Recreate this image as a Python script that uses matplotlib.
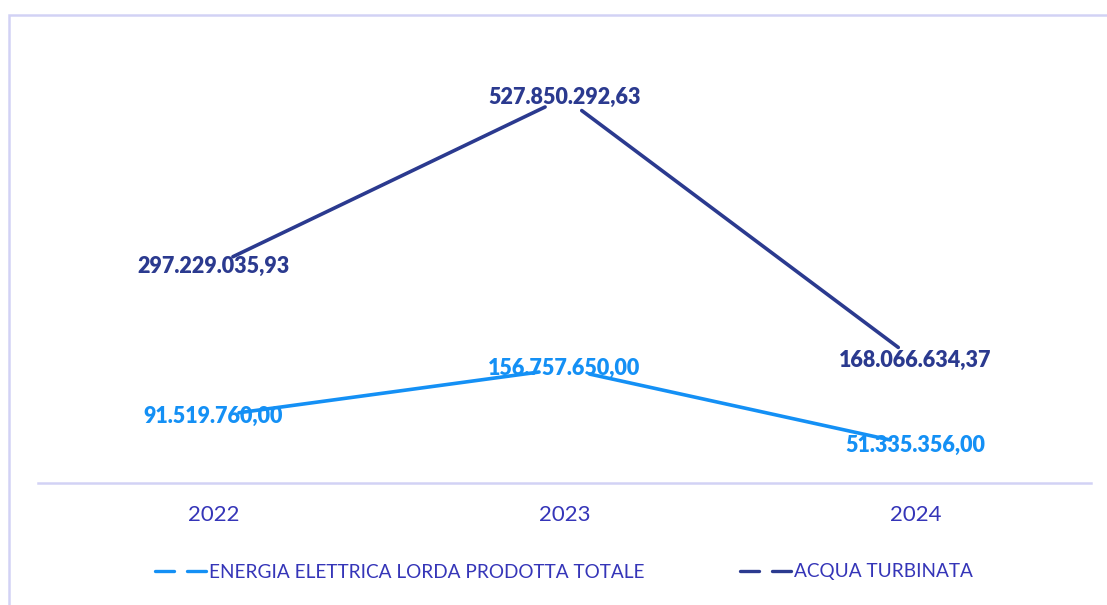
import matplotlib
matplotlib.use("Agg")
import matplotlib.pyplot as plt
from matplotlib.lines import Line2D
from matplotlib.patches import Rectangle

anni = ["2022", "2023", "2024"]
energia = [91519760.00, 156757650.00, 51335356.00]
acqua = [297229035.93, 527850292.63, 168066634.37]
etichette_energia = ["91.519.760,00", "156.757.650,00", "51.335.356,00"]
etichette_acqua = ["297.229.035,93", "527.850.292,63", "168.066.634,37"]
nomi = ["ENERGIA ELETTRICA LORDA PRODOTTA TOTALE", "ACQUA TURBINATA"]

col_energia = "#1490F5"
col_acqua = "#2B3A8F"
col_testo = "#3535B8"
col_bordo = "#D2D2F5"

plt.rcParams['font.family'] = ['Lato', 'DejaVu Sans']

fig = plt.figure(figsize=(11.07, 6.05), dpi=100)
W, H = 1107, 605
ax = fig.add_axes([38 / W, 1 - 483 / H, (1091 - 38) / W, (483 - 45) / H])

# cornice esterna (solo lati sinistro e superiore visibili)
alto = 1 - 14.5 / H
fig.patches.append(Rectangle((8.5 / W, -0.2), 1.2, alto + 0.2,
                             transform=fig.transFigure, fill=False,
                             edgecolor=col_bordo, linewidth=1.8))

x = list(range(len(anni)))

# linee spezzate: ogni tratto si ferma prima dei punti, come nel grafico originale
for serie, colore, accorcia in [(acqua, col_acqua, 15.5), (energia, col_energia, 18.5)]:
    for i in range(len(x) - 1):
        ax.annotate("", xy=(x[i + 1], serie[i + 1]), xytext=(x[i], serie[i]),
                    arrowprops=dict(arrowstyle="-", color=colore, lw=2.6,
                                    shrinkA=accorcia, shrinkB=accorcia))

for xi, v, t in zip(x, acqua, etichette_acqua):
    ax.text(xi, v, t, ha="center", va="center", fontsize=15.5, fontweight="heavy",
            color=col_acqua, zorder=1)
for xi, v, t in zip(x, energia, etichette_energia):
    ax.text(xi, v, t, ha="center", va="center", fontsize=15.5, fontweight="heavy",
            color=col_energia, zorder=1)

ax.set_xlim(-0.5, 2.5)
ax.set_ylim(0, 600e6)
ax.set_xticks(x)
ax.set_xticklabels(anni, fontsize=16, color=col_testo)
ax.tick_params(axis="x", length=0, pad=16)
ax.set_yticks([])
for lato in ["top", "right", "left"]:
    ax.spines[lato].set_visible(False)
ax.spines["bottom"].set_color(col_bordo)
ax.spines["bottom"].set_linewidth(1.8)

maniglie = [Line2D([0], [0], color=col_energia, lw=2.4, linestyle=(0, (5.7, 3.9)),
                   dash_capstyle="round"),
            Line2D([0], [0], color=col_acqua, lw=2.4, linestyle=(0, (5.7, 3.9)),
                   dash_capstyle="round")]
leg = fig.legend(maniglie, nomi, loc="center", bbox_to_anchor=(564 / W, 1 - 572 / H),
                 ncol=2, frameon=False, fontsize=13.7, handlelength=2.68,
                 handletextpad=0.15, columnspacing=5.0)
for t in leg.get_texts():
    t.set_color(col_testo)

fig.savefig("out.png", dpi=100)
